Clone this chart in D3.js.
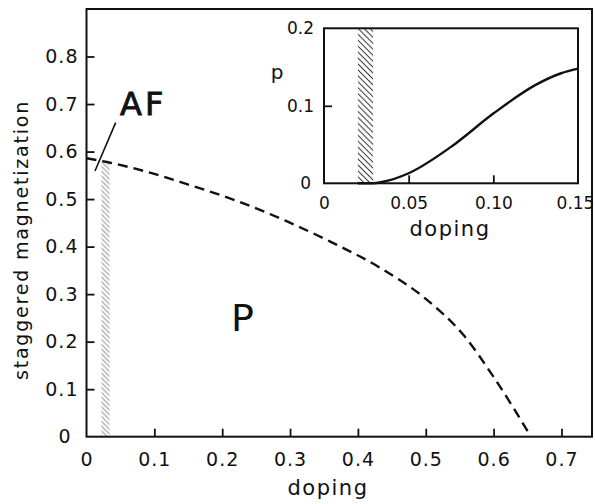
<!DOCTYPE html>
<html>
<head>
<meta charset="utf-8">
<script src="https://cdn.jsdelivr.net/npm/d3@7"></script>
<style>
    html, body { margin: 0; padding: 0; background: #fff; }
    svg { display: block; font-family: "DejaVu Sans", sans-serif; }
    .tick line { stroke: #111; stroke-width: 1.8; }
</style>
</head>
<body>
<svg id="chart" width="595" height="504"></svg>
<script>
"use strict";

// main panel: staggered magnetization vs doping (dashed boundary)
const mainDoping = [0, 0.03, 0.1, 0.147, 0.22, 0.294, 0.36, 0.432, 0.5, 0.555, 0.604, 0.655];
const mainMagnetization = [0.586, 0.578, 0.553, 0.532, 0.497, 0.454, 0.41, 0.356, 0.29, 0.215, 0.117, 0];
const mainXTicks = [0, 0.1, 0.2, 0.3, 0.4, 0.5, 0.6, 0.7];
const mainYTicks = [0, 0.1, 0.2, 0.3, 0.4, 0.5, 0.6, 0.7, 0.8];
const mainHatch = [0.022, 0.034];

// inset: p vs doping
const insetDoping = [0.02, 0.028, 0.035, 0.05, 0.075, 0.1, 0.125, 0.14, 0.15];
const insetP = [0, 0, 0.002, 0.013, 0.047, 0.09, 0.127, 0.142, 0.148];
const insetXTicks = [0, 0.05, 0.1, 0.15];
const insetXLabels = ["0", "0.05", "0.10", "0.15"];
const insetYTicks = [0, 0.1, 0.2];
const insetHatch = [0.02, 0.029];

// AF leader line, in data units of the main panel
const afLeader = [[0.043, 0.661], [0.0125, 0.559]];

const INK = "#111";
const svg = d3.select("#chart");
const defs = svg.append("defs");

/**
 * Adds a "\" hatch pattern to defs
 *
 * @param {string} id - pattern id
 * @param {number} gap - distance between hatch lines
 * @param {string} color - line colour
 * @param {number} width - line width
 * @returns {string} fill url
 */
const addHatch = (id, gap, color, width) => {
    const p = defs.append("pattern")
        .attr("id", id)
        .attr("patternUnits", "userSpaceOnUse")
        .attr("patternTransform", "rotate(45)")
        .attr("width", 10)
        .attr("height", gap);
    p.append("line")
        .attr("x1", 0).attr("x2", 10)
        .attr("y1", gap / 2).attr("y2", gap / 2)
        .attr("stroke", color)
        .attr("stroke-width", width);
    return `url(#${id})`;
};

/**
 * Draws inward ticks with labels and a closed frame
 *
 * @param {Selection} g - target group
 * @param {object} scale - {x, y}
 * @param {object} opts - tick values, formats, paddings and label size
 * @returns {object} the two axis groups
 */
const drawFrame = (g, scale, opts) => {
    const [x0, x1] = scale.x.range();
    const [y0, y1] = scale.y.range();
    const xAxis = g.append("g")
        .attr("transform", `translate(0,${y0})`)
        .call(d3.axisBottom(scale.x)
            .tickValues(opts.xTicks)
            .tickFormat(opts.xFormat)
            .tickSizeInner(-8)
            .tickSizeOuter(0)
            .tickPadding(opts.xPad));
    const yAxis = g.append("g")
        .attr("transform", `translate(${x0},0)`)
        .call(d3.axisLeft(scale.y)
            .tickValues(opts.yTicks)
            .tickFormat(opts.yFormat)
            .tickSizeInner(-8)
            .tickSizeOuter(0)
            .tickPadding(opts.yPad));
    [xAxis, yAxis].forEach((a) => {
        a.select(".domain").remove();
        a.attr("font-family", null).attr("font-size", null);
        a.selectAll(".tick text")
            .style("font-size", `${opts.fontSize}px`)
            .style("letter-spacing", `${opts.spacing}px`)
            .attr("fill", INK);
    });
    // no tick marks on the corner
    xAxis.selectAll(".tick").filter((d) => d === 0).select("line").remove();
    yAxis.selectAll(".tick").filter((d) => d === 0).select("line").remove();
    yAxis.selectAll(".tick").filter((d) => d === 0).select("text").attr("dx", opts.zeroDx);
    g.append("rect")
        .attr("x", x0)
        .attr("y", y1)
        .attr("width", x1 - x0)
        .attr("height", y0 - y1)
        .attr("fill", "none")
        .attr("stroke", INK)
        .attr("stroke-width", 2);
    return { xAxis, yAxis };
};

// ---------- main panel ----------
const main = {
    x: d3.scaleLinear().domain([0, 0.745]).range([86.5, 592]),
    y: d3.scaleLinear().domain([0, 0.9]).range([436.7, 9])
};
const mainG = svg.append("g").attr("class", "main-axes");

const mainFill = addHatch("hatch-main", 3.4, "#888", 0.9);
const topAtHatch = d3.scaleLinear().domain(mainDoping).range(mainMagnetization);
mainG.append("rect")
    .attr("x", main.x(mainHatch[0]))
    .attr("y", main.y(topAtHatch(mainHatch[0])))
    .attr("width", main.x(mainHatch[1]) - main.x(mainHatch[0]))
    .attr("height", main.y(0) - main.y(topAtHatch(mainHatch[0])))
    .attr("fill", mainFill);

mainG.append("path")
    .datum(d3.zip(mainDoping, mainMagnetization))
    .attr("fill", "none")
    .attr("stroke", INK)
    .attr("stroke-width", 2.4)
    .attr("stroke-dasharray", "10,6")
    .attr("d", d3.line()
        .x((d) => main.x(d[0]))
        .y((d) => main.y(d[1]))
        .curve(d3.curveMonotoneX));

drawFrame(mainG, main, {
    xTicks: mainXTicks,
    yTicks: mainYTicks,
    xFormat: (d) => (d === 0 ? "0" : d3.format(".1f")(d)),
    yFormat: (d) => (d === 0 ? "0" : d3.format(".1f")(d)),
    xPad: 16,
    yPad: 8,
    zeroDx: -7,
    fontSize: 19,
    spacing: 1
});

mainG.append("line")
    .attr("x1", main.x(afLeader[0][0]))
    .attr("y1", main.y(afLeader[0][1]))
    .attr("x2", main.x(afLeader[1][0]))
    .attr("y2", main.y(afLeader[1][1]))
    .attr("stroke", INK)
    .attr("stroke-width", 1.6);

mainG.append("text")
    .attr("x", 120)
    .attr("y", 115)
    .attr("font-size", 32)
    .attr("letter-spacing", 3)
    .attr("fill", INK)
    .attr("stroke", INK)
    .attr("stroke-width", 0.9)
    .text("AF");

mainG.append("text")
    .attr("x", 231)
    .attr("y", 331)
    .attr("font-size", 38)
    .attr("fill", INK)
    .text("P");

mainG.append("text")
    .attr("x", 328)
    .attr("y", 495)
    .attr("text-anchor", "middle")
    .attr("font-size", 21)
    .attr("letter-spacing", 1.5)
    .attr("fill", INK)
    .text("doping");

mainG.append("text")
    .attr("transform", "translate(28,240) rotate(-90)")
    .attr("text-anchor", "middle")
    .attr("font-size", 19)
    .attr("letter-spacing", 1.8)
    .attr("fill", INK)
    .text("staggered magnetization");

// ---------- inset ----------
const inset = {
    x: d3.scaleLinear().domain([0, 0.15]).range([324, 578]),
    y: d3.scaleLinear().domain([0, 0.2]).range([183.3, 28.3])
};
const insetG = svg.append("g").attr("class", "inset-axes");

insetG.append("rect")
    .attr("x", inset.x(0))
    .attr("y", inset.y(0.2))
    .attr("width", inset.x(0.15) - inset.x(0))
    .attr("height", inset.y(0) - inset.y(0.2))
    .attr("fill", "#fff");

const insetFill = addHatch("hatch-inset", 4.2, "#333", 1);
insetG.append("rect")
    .attr("x", inset.x(insetHatch[0]))
    .attr("y", inset.y(0.2))
    .attr("width", inset.x(insetHatch[1]) - inset.x(insetHatch[0]))
    .attr("height", inset.y(0) - inset.y(0.2))
    .attr("fill", insetFill);

insetG.append("path")
    .datum(d3.zip(insetDoping, insetP))
    .attr("fill", "none")
    .attr("stroke", INK)
    .attr("stroke-width", 2.4)
    .attr("d", d3.line()
        .x((d) => inset.x(d[0]))
        .y((d) => inset.y(d[1]))
        .curve(d3.curveMonotoneX));

const insetAxes = drawFrame(insetG, inset, {
    xTicks: insetXTicks,
    yTicks: insetYTicks,
    xFormat: (d, i) => insetXLabels[i],
    yFormat: (d) => (d === 0 ? "0" : d3.format(".1f")(d)),
    xPad: 14,
    yPad: 10,
    zeroDx: -3,
    fontSize: 17,
    spacing: 0
});
// ticks that would sit on the frame edges
insetAxes.xAxis.selectAll(".tick").filter((d) => d === 0.15).select("line").remove();
insetAxes.xAxis.selectAll(".tick").filter((d) => d === 0.15).select("text").attr("dx", -3);
insetAxes.yAxis.selectAll(".tick").filter((d) => d === 0.2).select("line").remove();

insetG.append("text")
    .attr("x", 450)
    .attr("y", 236)
    .attr("text-anchor", "middle")
    .attr("font-size", 21)
    .attr("letter-spacing", 1.5)
    .attr("fill", INK)
    .text("doping");

insetG.append("text")
    .attr("x", 277)
    .attr("y", 79)
    .attr("text-anchor", "middle")
    .attr("font-size", 20)
    .attr("fill", INK)
    .text("p");
</script>
</body>
</html>
